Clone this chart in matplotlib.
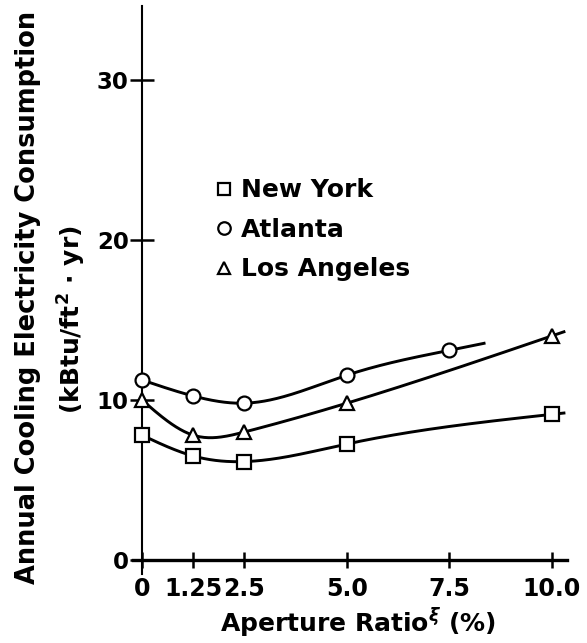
import numpy as np
import matplotlib
matplotlib.use("Agg")
import matplotlib.pyplot as plt

# values
ny_x = [0, 1.25, 2.5, 5.0, 10.0]
ny_y = [7.8, 6.5, 6.15, 7.25, 9.1]
atl_x = [0, 1.25, 2.5, 5.0, 7.5]
atl_y = [11.25, 10.25, 9.8, 11.55, 13.1]
la_x = [0, 1.25, 2.5, 5.0, 10.0]
la_y = [10.0, 7.8, 8.0, 9.8, 14.0]
curve_end = [10.3, 8.35, 10.3]   # where each hand-drawn curve stops

xticks = [0, 1.25, 2.5, 5.0, 7.5, 10.0]
xticklabels = ["0", "1.25", "2.5", "5.0", "7.5", "10.0"]
yticks = [0, 10, 20, 30]


def natural_spline(x, y, xs):
    x = np.asarray(x, float)
    y = np.asarray(y, float)
    n = len(x)
    h = np.diff(x)
    A = np.zeros((n, n))
    b = np.zeros(n)
    A[0, 0] = A[-1, -1] = 1
    for i in range(1, n - 1):
        A[i, i - 1] = h[i - 1]
        A[i, i] = 2 * (h[i - 1] + h[i])
        A[i, i + 1] = h[i]
        b[i] = 6 * ((y[i + 1] - y[i]) / h[i] - (y[i] - y[i - 1]) / h[i - 1])
    M = np.linalg.solve(A, b)
    out = []
    for xv in xs:
        i = min(max(np.searchsorted(x, xv) - 1, 0), n - 2)
        t0 = x[i + 1] - xv
        t1 = xv - x[i]
        hi = h[i]
        v = (M[i] * t0 ** 3 + M[i + 1] * t1 ** 3) / (6 * hi) \
            + (y[i] / hi - M[i] * hi / 6) * t0 \
            + (y[i + 1] / hi - M[i + 1] * hi / 6) * t1
        out.append(v)
    return np.array(out)


plt.rcParams["font.family"] = "DejaVu Sans"
plt.rcParams["font.weight"] = "bold"
plt.rcParams["mathtext.fontset"] = "dejavusans"

fig = plt.figure(figsize=(5.87, 6.43), dpi=100)
ax = fig.add_axes([0.2266, 0.1067, 0.739, 0.8834])

series = [
    (ny_x, ny_y, "s", "New York", curve_end[0]),
    (atl_x, atl_y, "o", "Atlanta", curve_end[1]),
    (la_x, la_y, "^", "Los Angeles", curve_end[2]),
]
for xs, ys, mk, name, xe in series:
    xx = np.linspace(xs[0], xe, 300)
    ax.plot(xx, natural_spline(xs, ys, xx), color="black", lw=2.1, zorder=2)
    ax.plot(xs, ys, linestyle="none", marker=mk, ms=10, mfc="white",
            mec="black", mew=1.6, label=name, zorder=3)

ax.set_xlim(-0.22, 10.37)
ax.set_ylim(-0.9, 34.6)
ax.spines["top"].set_visible(False)
ax.spines["right"].set_visible(False)
ax.spines["left"].set_position(("data", 0))
ax.spines["bottom"].set_position(("data", 0))
ax.spines["left"].set_linewidth(1.5)
ax.spines["bottom"].set_linewidth(2.4)

ax.set_xticks(xticks)
ax.set_xticklabels(xticklabels)
ax.set_yticks(yticks)
ax.tick_params(axis="x", direction="inout", length=12, width=1.8,
               labelsize=17, pad=6)
ax.tick_params(axis="y", direction="inout", length=17, width=1.8,
               labelsize=16.5, pad=1)

fig.text(0.61, 0.031, r"Aperture Ratio$^{\xi}$ (%)", ha="center",
         va="center", fontsize=18, fontweight="bold")
fig.text(0.047, 0.537, "Annual Cooling Electricity Consumption",
         rotation=90, ha="center", va="center", fontsize=18.5,
         fontweight="bold")
fig.text(0.122, 0.503, r"(kBtu/ft$^{\mathbf{2}}$ $\cdot$ yr)", rotation=90,
         ha="center", va="center", fontsize=18, fontweight="bold")

ax.legend(loc="upper left", bbox_to_anchor=(0.14, 0.737), frameon=False,
          handlelength=0.6, handletextpad=0.4, labelspacing=0.62,
          prop={"size": 18, "weight": "bold"}, markerscale=0.9)

fig.savefig("out.png", dpi=100)
